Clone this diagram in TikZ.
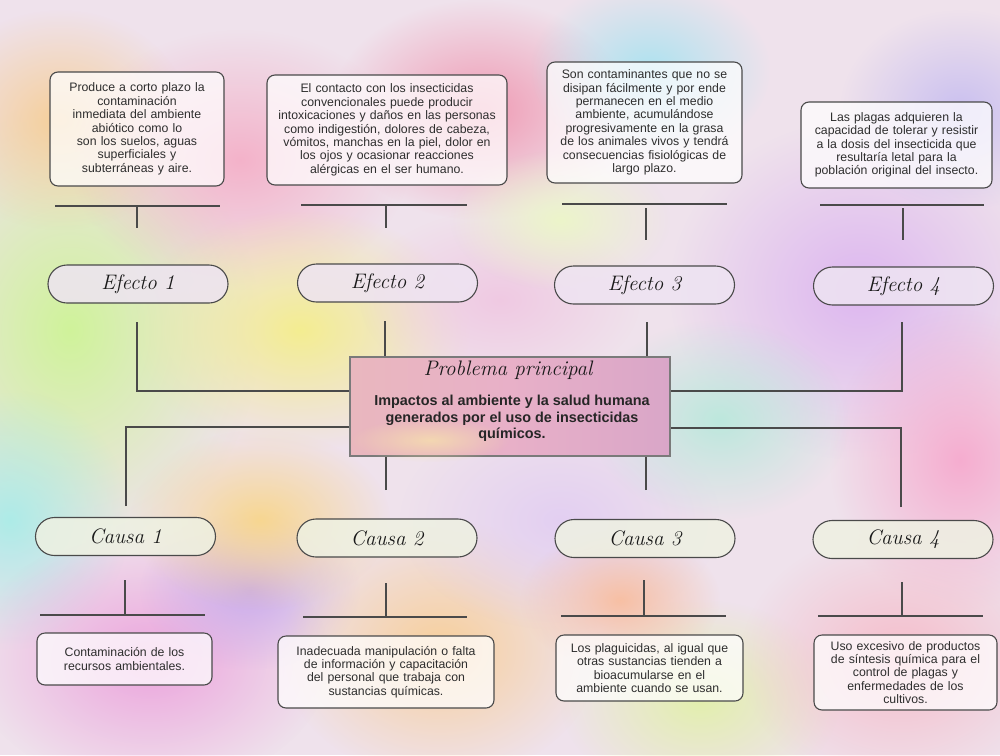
\documentclass[tikz,border=0pt]{standalone}
\usepackage{fontspec}
\newfontfamily\boxfont{Liberation Sans}
\usetikzlibrary{fadings,calc}
\tikzfading[name=softblob, inner color=transparent!0, outer color=transparent!100]
\definecolor{ln}{HTML}{4A4A4A}
\definecolor{txt}{HTML}{2E2E2E}
\definecolor{bgbase}{HTML}{EFE2EC}
\definecolor{efill}{HTML}{EEE4F2}
\definecolor{cfill}{HTML}{EEF1E2}
\definecolor{ppl}{HTML}{E9B7BE}
\definecolor{ppr}{HTML}{D9A6C8}
\definecolor{ppborder}{HTML}{7A7A7A}
\begin{document}
\begin{tikzpicture}[x=1pt,y=-1pt,
  conn/.style={draw=ln, line width=1.2pt},
  textbox/.style={draw=ln, line width=1.1pt, rounded corners=8pt, fill=white, fill opacity=0.72, text opacity=1,
    font=\boxfont\fontsize{12.3}{13.4}\selectfont, text=txt, align=center, inner sep=0pt},
  efecto/.style={draw=ln, line width=1.1pt, rounded corners=19pt, minimum width=180pt, minimum height=38pt,
    fill=efill, fill opacity=0.85, text opacity=1, text=black!90, font=\itshape\fontsize{21}{24}\selectfont, inner sep=0pt},
  causa/.style={efecto, fill=cfill},
  blob/.style={path fading=softblob, fill opacity=0.95}
]
\useasboundingbox (0,0) rectangle (1000,755);
% ---------- background ----------
\fill[bgbase] (0,0) rectangle (1000,755);
\fill[blob, fill={rgb,255:red,206;green,244;blue,150}] (70,330) ellipse (190 and 230);
\fill[blob, fill={rgb,255:red,170;green,236;blue,232}] (10,520) ellipse (120 and 130);
\fill[blob, fill={rgb,255:red,246;green,206;blue,150}] (60,120) ellipse (130 and 110);
\fill[blob, fill={rgb,255:red,244;green,176;blue,200}] (240,160) ellipse (170 and 130);
\fill[blob, fill={rgb,255:red,244;green,238;blue,140}] (300,330) ellipse (170 and 120);
\fill[blob, fill={rgb,255:red,240;green,150;blue,176}] (480,110) ellipse (150 and 110);
\fill[blob, fill={rgb,255:red,170;green,226;blue,240}] (650,70) ellipse (120 and 90);
\fill[blob, fill={rgb,255:red,220;green,180;blue,240}] (860,290) ellipse (190 and 170);
\fill[blob, fill={rgb,255:red,200;green,190;blue,240}] (960,110) ellipse (120 and 100);
\fill[blob, fill={rgb,255:red,246;green,170;blue,206}] (960,460) ellipse (130 and 150);
\fill[blob, fill={rgb,255:red,236;green,160;blue,220}] (150,660) ellipse (180 and 130);
\fill[blob, fill={rgb,255:red,200;green,170;blue,236}] (250,590) ellipse (110 and 80);
\fill[blob, fill={rgb,255:red,248;green,206;blue,150}] (440,650) ellipse (160 and 130);
\fill[blob, fill={rgb,255:red,226;green,240;blue,170}] (700,700) ellipse (140 and 100);
\fill[blob, fill={rgb,255:red,246;green,186;blue,200}] (900,660) ellipse (160 and 130);
\fill[blob, fill={rgb,255:red,226;green,206;blue,242}] (560,520) ellipse (160 and 110);
\fill[blob, fill={rgb,255:red,248;green,214;blue,140}] (260,520) ellipse (130 and 90);
\fill[blob, fill={rgb,255:red,186;green,232;blue,220}] (720,420) ellipse (130 and 100);
\fill[blob, fill={rgb,255:red,248;green,190;blue,160}] (620,600) ellipse (100 and 70);
\fill[blob, fill={rgb,255:red,240;green,200;blue,226}] (500,300) ellipse (140 and 90);
\fill[blob, fill={rgb,255:red,236;green,246;blue,200}] (560,220) ellipse (110 and 70);
% ---------- top boxes ----------
\node[textbox, minimum width=174pt, minimum height=114pt, text width=168pt] (t1) at (137,129)
  {Produce a corto plazo la\\ contaminación\\ inmediata del ambiente\\ abiótico como lo\\ son los suelos, aguas\\ superficiales y\\ subterráneas y aire.};
\node[textbox, minimum width=240pt, minimum height=110pt, text width=234pt] (t2) at (387,130)
  {El contacto con los insecticidas\\ convencionales puede producir\\ intoxicaciones y daños en las personas\\ como indigestión, dolores de cabeza,\\ vómitos, manchas en la piel, dolor en\\ los ojos y ocasionar reacciones\\ alérgicas en el ser humano.};
\node[textbox, minimum width=195pt, minimum height=121pt, text width=189pt] (t3) at (644.5,122.5)
  {Son contaminantes que no se\\ disipan fácilmente y por ende\\ permanecen en el medio\\ ambiente, acumulándose\\ progresivamente en la grasa\\ de los animales vivos y tendrá\\ consecuencias fisiológicas de\\ largo plazo.};
\node[textbox, minimum width=191pt, minimum height=86pt, text width=185pt] (t4) at (896.5,145)
  {Las plagas adquieren la\\ capacidad de tolerar y resistir\\ a la dosis del insecticida que\\ resultaría letal para la\\ población original del insecto.};
% top stubs
\coordinate (t1l) at (55,206);  \coordinate (t1r) at (220,206);
\coordinate (t1a) at (137,206); \coordinate (t1b) at (137,228);
\coordinate (t2l) at (301,205); \coordinate (t2r) at (467,205);
\coordinate (t2a) at (386,205); \coordinate (t2b) at (386,228);
\coordinate (t3l) at (562,204); \coordinate (t3r) at (727,204);
\coordinate (t3a) at (646,208); \coordinate (t3b) at (646,240);
\coordinate (t4l) at (820,205); \coordinate (t4r) at (984,205);
\coordinate (t4a) at (903,208); \coordinate (t4b) at (903,240);
\foreach \i in {1,2,3,4} { \draw[conn] (t\i l) -- (t\i r); \draw[conn] (t\i a) -- (t\i b); }
% ---------- efecto pills ----------
\node[efecto] (e1) at (138,284) {Efecto \oldstylenums{1}};
\node[efecto] (e2) at (387.5,283) {Efecto \oldstylenums{2}};
\node[efecto] (e3) at (644.5,285) {Efecto \oldstylenums{3}};
\node[efecto] (e4) at (903.5,286) {Efecto \oldstylenums{4}};
% ---------- central box ----------
\node[draw=ppborder, line width=2pt, left color=ppl, right color=ppr, middle color={rgb,255:red,232;green,176;blue,200},
  minimum width=320pt, minimum height=99pt, inner sep=0pt] (pp) at (510,406.5) {};
\fill[fill={rgb,255:red,248;green,230;blue,170}, path fading=softblob, fill opacity=0.7] (430,440) ellipse (80 and 22);
\node[font=\itshape\fontsize{21}{24}\selectfont, text=black!90, inner sep=0pt] (ppt) at (508,370) {Problema principal};
\node[font=\boxfont\bfseries\fontsize{14.4}{16.7}\selectfont, text=black!85, align=center, inner sep=0pt] (ppb) at (512,418.5)
  {Impactos al ambiente y la salud humana\\ generados por el uso de insecticidas\\ químicos.};
% ---------- connectors effects ----------
\coordinate (e1s) at (137,322);
\coordinate (e2s) at (385,321);
\coordinate (e3s) at (647,322);
\coordinate (e4s) at (902,322);
\draw[conn] (e1s) |- ([yshift=-35pt]pp.north west);
\draw[conn] (e2s) -- (e2s |- pp.north);
\draw[conn] (e3s) -- (e3s |- pp.north);
\draw[conn] (e4s) |- ([yshift=-35pt]pp.north east);
% ---------- connectors causes ----------
\coordinate (c1s) at (126,506);
\coordinate (c2s) at (386,490);
\coordinate (c3s) at (646,490);
\coordinate (c4s) at (901,507);
\draw[conn] (c1s) |- ([yshift=-71pt]pp.north west);
\draw[conn] (c2s) -- (c2s |- pp.south);
\draw[conn] (c3s) -- (c3s |- pp.south);
\draw[conn] (c4s) |- ([yshift=-72pt]pp.north east);
% ---------- causa pills ----------
\node[causa] (c1) at (125.5,536.5) {Causa \oldstylenums{1}};
\node[causa] (c2) at (387,538) {Causa \oldstylenums{2}};
\node[causa] (c3) at (645,538.5) {Causa \oldstylenums{3}};
\node[causa] (c4) at (903,539.5) {Causa \oldstylenums{4}};
% bottom stubs
\coordinate (b1a) at (125,580); \coordinate (b1b) at (125,615);
\coordinate (b1l) at (40,615);  \coordinate (b1r) at (205,615);
\coordinate (b2a) at (386,583); \coordinate (b2b) at (386,617);
\coordinate (b2l) at (303,617); \coordinate (b2r) at (467,617);
\coordinate (b3a) at (644,580); \coordinate (b3b) at (644,616);
\coordinate (b3l) at (561,616); \coordinate (b3r) at (726,616);
\coordinate (b4a) at (902,582); \coordinate (b4b) at (902,616);
\coordinate (b4l) at (818,616); \coordinate (b4r) at (983,616);
\foreach \i in {1,2,3,4} { \draw[conn] (b\i l) -- (b\i r); \draw[conn] (b\i a) -- (b\i b); }
% ---------- bottom boxes ----------
\node[textbox, minimum width=175pt, minimum height=52pt, text width=169pt] (d1) at (124.5,659)
  {Contaminación de los\\ recursos ambientales.};
\node[textbox, minimum width=216pt, minimum height=72pt, text width=210pt] (d2) at (386,672)
  {Inadecuada manipulación o falta\\ de información y capacitación\\ del personal que trabaja con\\ sustancias químicas.};
\node[textbox, minimum width=187pt, minimum height=66pt, text width=181pt] (d3) at (649.5,668)
  {Los plaguicidas, al igual que\\ otras sustancias tienden a\\ bioacumularse en el\\ ambiente cuando se usan.};
\node[textbox, minimum width=183pt, minimum height=75pt, text width=177pt] (d4) at (905.5,672.5)
  {Uso excesivo de productos\\ de síntesis química para el\\ control de plagas y\\ enfermedades de los\\ cultivos.};
\end{tikzpicture}
\end{document}
